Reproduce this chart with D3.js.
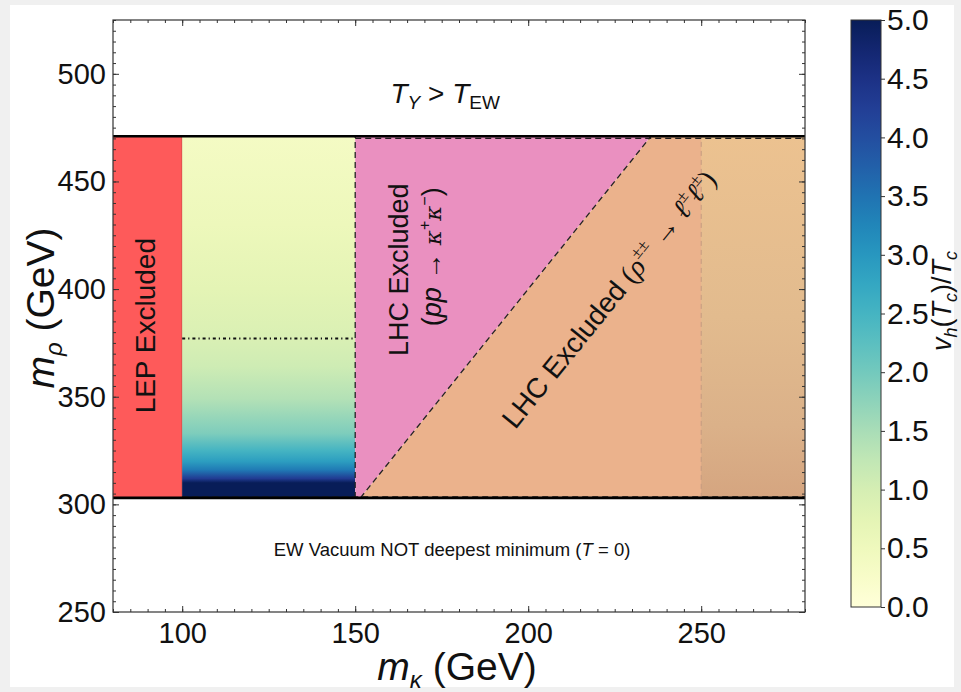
<!DOCTYPE html>
<html><head><meta charset="utf-8">
<script src="https://cdn.jsdelivr.net/npm/d3@7"></script>
<style>
html,body{margin:0;padding:0;background:#f0f0f0;}
svg{display:block;}
text{font-family:"Liberation Sans",Arial,Helvetica,sans-serif;fill:#111;}
</style></head>
<body>
<svg id="chart" width="961" height="692"></svg>
<script>
// ---------------- data ----------------
const xDomain = [80, 280];            // m_kappa (GeV)
const yDomain = [250, 525];           // m_rho (GeV)
const xTicks = [100, 150, 200, 250];
const yTicks = [250, 300, 350, 400, 450, 500];
const cbTicks = [0, 0.5, 1.0, 1.5, 2.0, 2.5, 3.0, 3.5, 4.0, 4.5, 5.0];
const cbDomain = [0, 5];
const rhoLow = 303;                   // EW vacuum NOT deepest minimum below
const rhoHigh = 471;                  // T_Y > T_EW above
const lepLimit = 100;                 // LEP excluded below m_kappa
const pairLimit = 150;                // LHC pp -> kappa+ kappa- excluded
const rhoPerKappa = 2;                // rho -> l l excluded when m_rho < 2 m_kappa
const highKappa = 250;                // right-hand sub-band
const vOverTLine = 377;               // v_h(T_c)/T_c = 1 contour
// v_h(Tc)/Tc profile inside 100<m_kappa<150 as a function of m_rho
const profRho = [303, 310, 312, 316, 320, 325, 333, 349, 364, 378, 400, 430, 471];
const profVT  = [5.0, 5.0, 4.3, 3.4, 2.9, 2.5, 1.9, 1.4, 1.1, 0.92, 0.75, 0.55, 0.35];

// ---------------- layout ----------------
const svg = d3.select("#chart");
const L = 113, R = 805, T = 20, B = 612;
const x = d3.scaleLinear().domain(xDomain).range([L, R]);
const y = d3.scaleLinear().domain(yDomain).range([B, T]);
const cbX = 851, cbW = 30;
const cy = d3.scaleLinear().domain(cbDomain).range([607, 20]);
const cmap = d3.interpolateYlGnBu;
const sans = '"Liberation Sans",Arial,sans-serif';

svg.append("rect").attr("x", 10).attr("y", 5).attr("width", 944).attr("height", 682).attr("fill", "#fff");

const defs = svg.append("defs");
defs.append("clipPath").attr("id", "clip").append("rect")
  .attr("x", L).attr("y", T).attr("width", R - L).attr("height", B - T);

const g1 = defs.append("linearGradient").attr("id", "profGrad")
  .attr("gradientUnits", "userSpaceOnUse")
  .attr("x1", 0).attr("x2", 0).attr("y1", y(rhoLow)).attr("y2", y(rhoHigh));
profRho.forEach((r, i) => {
  g1.append("stop").attr("offset", (r - rhoLow) / (rhoHigh - rhoLow))
    .attr("stop-color", cmap(profVT[i] / cbDomain[1]));
});
const g2 = defs.append("linearGradient").attr("id", "tanGrad")
  .attr("x1", 0).attr("x2", 0).attr("y1", 1).attr("y2", 0);
[[0, "#d5a580"], [0.2, "#dbb189"], [0.5, "#e2bb8e"], [1, "#ecc290"]].forEach(s =>
  g2.append("stop").attr("offset", s[0]).attr("stop-color", s[1]));
const g3 = defs.append("linearGradient").attr("id", "cbGrad")
  .attr("x1", 0).attr("x2", 0).attr("y1", 1).attr("y2", 0);
d3.range(0, 1.0001, 0.05).forEach(t =>
  g3.append("stop").attr("offset", t).attr("stop-color", cmap(t)));

const plot = svg.append("g").attr("clip-path", "url(#clip)");
const line = d3.line().x(d => x(d[0])).y(d => y(d[1]));

plot.append("rect").attr("x", x(xDomain[0])).attr("y", y(rhoHigh))
  .attr("width", x(lepLimit) - x(xDomain[0])).attr("height", y(rhoLow) - y(rhoHigh))
  .attr("fill", "#fe5a5a");
plot.append("path").attr("d", line([[lepLimit, rhoLow], [lepLimit, rhoHigh]]))
  .attr("stroke", "#b0453c").attr("stroke-width", 1);
plot.append("rect").attr("x", x(lepLimit)).attr("y", y(rhoHigh))
  .attr("width", x(pairLimit) - x(lepLimit)).attr("height", y(rhoLow) - y(rhoHigh))
  .attr("fill", "url(#profGrad)");
const kLow = rhoLow / rhoPerKappa, kHigh = rhoHigh / rhoPerKappa;
plot.append("path").attr("d", line([[pairLimit, rhoLow], [kLow, rhoLow], [kHigh, rhoHigh], [pairLimit, rhoHigh]]) + "Z")
  .attr("fill", "#ea90c0");
plot.append("path").attr("d", line([[kLow, rhoLow], [xDomain[1], rhoLow], [xDomain[1], rhoHigh], [kHigh, rhoHigh]]) + "Z")
  .attr("fill", "#ebb28c");
plot.append("rect").attr("x", x(highKappa)).attr("y", y(rhoHigh))
  .attr("width", x(xDomain[1]) - x(highKappa)).attr("height", y(rhoLow) - y(rhoHigh))
  .attr("fill", "url(#tanGrad)");
plot.append("path").attr("d", line([[highKappa, rhoLow], [highKappa, rhoHigh]]))
  .attr("stroke", "#c49a80").attr("stroke-width", 1).attr("stroke-dasharray", "5,4");

const dash = (pts) => plot.append("path").attr("d", line(pts)).attr("fill", "none")
  .attr("stroke", "#222").attr("stroke-width", 1.3).attr("stroke-dasharray", "6,4");
dash([[pairLimit, rhoLow], [pairLimit, rhoHigh]]);
dash([[kLow, rhoLow], [kHigh, rhoHigh]]);
dash([[pairLimit, rhoHigh - 1], [xDomain[1], rhoHigh - 1]]);
dash([[lepLimit, rhoLow + 0.5], [xDomain[1], rhoLow + 0.5]]);
plot.append("path").attr("d", line([[lepLimit, vOverTLine], [pairLimit, vOverTLine]]))
  .attr("stroke", "#111").attr("stroke-width", 2).attr("stroke-dasharray", "3,3,1.2,3").attr("fill", "none");
[rhoLow, rhoHigh].forEach(r =>
  plot.append("path").attr("d", line([[xDomain[0], r], [xDomain[1], r]]))
    .attr("stroke", "#000").attr("stroke-width", 2.6));

// ---------------- axes ----------------
const minorX = d3.range(xDomain[0], xDomain[1] + 0.1, 5);
const minorY = d3.range(yDomain[0], yDomain[1] + 0.1, 5);
const ax = svg.append("g");
const tickStyle = s => s.attr("stroke", "#333").attr("stroke-width", 1);
ax.append("g").attr("transform", `translate(0,${B})`)
  .call(d3.axisBottom(x).tickValues(minorX).tickSize(-3).tickFormat(""))
  .call(g => g.select(".domain").remove()).selectAll("line").call(tickStyle);
ax.append("g").attr("transform", `translate(0,${T})`)
  .call(d3.axisTop(x).tickValues(minorX).tickSize(-3).tickFormat(""))
  .call(g => g.select(".domain").remove()).selectAll("line").call(tickStyle);
ax.append("g").attr("transform", `translate(0,${B})`)
  .call(d3.axisBottom(x).tickValues(xTicks).tickSize(-6).tickPadding(10).tickFormat(d3.format("d")))
  .call(g => g.select(".domain").remove())
  .call(g => g.selectAll("line").call(tickStyle))
  .call(g => g.selectAll("text").attr("font-size", 29).attr("fill", "#111").attr("font-family", sans));
ax.append("g").attr("transform", `translate(0,${T})`)
  .call(d3.axisTop(x).tickValues(xTicks).tickSize(-6).tickFormat(""))
  .call(g => g.select(".domain").remove()).selectAll("line").call(tickStyle);
ax.append("g").attr("transform", `translate(${L},0)`)
  .call(d3.axisLeft(y).tickValues(minorY).tickSize(-3).tickFormat(""))
  .call(g => g.select(".domain").remove()).selectAll("line").call(tickStyle);
ax.append("g").attr("transform", `translate(${R},0)`)
  .call(d3.axisRight(y).tickValues(minorY).tickSize(-3).tickFormat(""))
  .call(g => g.select(".domain").remove()).selectAll("line").call(tickStyle);
ax.append("g").attr("transform", `translate(${L},0)`)
  .call(d3.axisLeft(y).tickValues(yTicks).tickSize(-6).tickPadding(7).tickFormat(d3.format("d")))
  .call(g => g.select(".domain").remove())
  .call(g => g.selectAll("line").call(tickStyle))
  .call(g => g.selectAll("text").attr("font-size", 29).attr("fill", "#111").attr("font-family", sans));
ax.append("g").attr("transform", `translate(${R},0)`)
  .call(d3.axisRight(y).tickValues(yTicks).tickSize(-6).tickFormat(""))
  .call(g => g.select(".domain").remove()).selectAll("line").call(tickStyle);
svg.append("rect").attr("x", L).attr("y", T).attr("width", R - L).attr("height", B - T)
  .attr("fill", "none").attr("stroke", "#333").attr("stroke-width", 1.2);

// axis titles
const xt = svg.append("text").attr("x", 457).attr("y", 680).attr("text-anchor", "middle").attr("font-size", 39);
xt.append("tspan").attr("font-style", "italic").text("m");
xt.append("tspan").attr("font-style", "italic").attr("font-size", 24).attr("dy", 8).text("κ");
xt.append("tspan").attr("dy", -8).text(" (GeV)");
const yt = svg.append("text").attr("transform", "translate(54,308) rotate(-90)").attr("text-anchor", "middle").attr("font-size", 39);
yt.append("tspan").attr("font-style", "italic").text("m");
yt.append("tspan").attr("font-style", "italic").attr("font-size", 24).attr("dy", 8).text("ρ");
yt.append("tspan").attr("dy", -8).text(" (GeV)");

// ---------------- annotations ----------------
const t1 = svg.append("text").attr("x", x(176)).attr("y", y(486.5)).attr("text-anchor", "middle").attr("font-size", 28);
t1.append("tspan").attr("font-style", "italic").text("T");
t1.append("tspan").attr("font-style", "italic").attr("font-size", 19).attr("dy", 6).text("Y");
t1.append("tspan").attr("dy", -6).text(" > ");
t1.append("tspan").attr("font-style", "italic").text("T");
t1.append("tspan").attr("font-size", 19).attr("dy", 6).text("EW");

const t2 = svg.append("text").attr("x", x(178)).attr("y", y(275.8)).attr("text-anchor", "middle").attr("font-size", 18.5);
t2.append("tspan").text("EW Vacuum NOT deepest minimum (");
t2.append("tspan").attr("font-style", "italic").text("T");
t2.append("tspan").text(" = 0)");

svg.append("text").attr("transform", `translate(${x(92)},${y(383)}) rotate(-90)`)
  .attr("text-anchor", "middle").attr("font-size", 28).text("LEP Excluded");

svg.append("text").attr("transform", `translate(${x(165.3)},${y(409)}) rotate(-90)`)
  .attr("text-anchor", "middle").attr("font-size", 27).text("LHC Excluded");
const t3 = svg.append("text").attr("transform", `translate(${x(174.7)},${y(415)}) rotate(-90)`)
  .attr("text-anchor", "middle").attr("font-size", 27);
t3.append("tspan").text("(");
t3.append("tspan").attr("font-style", "italic").text("pp");
t3.append("tspan").text(" → ");
t3.append("tspan").attr("font-style", "italic").attr("font-family", '"DejaVu Serif",serif').attr("font-size", 23).text("κ");
t3.append("tspan").attr("font-size", 16).attr("dy", -11).text("+");
t3.append("tspan").attr("dy", 11).attr("font-style", "italic").attr("font-family", '"DejaVu Serif",serif').attr("font-size", 23).text("κ");
t3.append("tspan").attr("font-size", 16).attr("dy", -11).text("−");
t3.append("tspan").attr("dy", 11).text(")");

const t4 = svg.append("text").attr("transform", `translate(${x(225.5)},${y(392.5)}) rotate(-51)`)
  .attr("text-anchor", "middle").attr("font-size", 28);
t4.append("tspan").text("LHC Excluded ");
const mathF = '"Liberation Serif","DejaVu Serif",serif';
t4.append("tspan").attr("font-family", mathF).text("(");
t4.append("tspan").attr("font-family", mathF).attr("font-style", "italic").text("ρ");
t4.append("tspan").attr("font-family", mathF).attr("font-size", 17).attr("dy", -12).text("±±");
t4.append("tspan").attr("font-family", mathF).attr("dy", 12).text(" → ");
t4.append("tspan").attr("font-family", mathF).attr("font-style", "italic").text("ℓ");
t4.append("tspan").attr("font-family", mathF).attr("font-size", 17).attr("dy", -12).text("±");
t4.append("tspan").attr("font-family", mathF).attr("font-style", "italic").attr("dy", 12).text("ℓ");
t4.append("tspan").attr("font-family", mathF).attr("font-size", 17).attr("dy", -12).text("±");
t4.append("tspan").attr("font-family", mathF).attr("dy", 12).text(")");

// ---------------- colorbar ----------------
svg.append("rect").attr("x", cbX).attr("y", cy(cbDomain[1])).attr("width", cbW)
  .attr("height", cy(cbDomain[0]) - cy(cbDomain[1])).attr("fill", "url(#cbGrad)")
  .attr("stroke", "#333").attr("stroke-width", 1);
svg.append("g").attr("transform", `translate(${cbX + cbW},0)`)
  .call(d3.axisRight(cy).tickValues(cbTicks).tickSize(4).tickPadding(2).tickFormat(d3.format(".1f")))
  .call(g => g.select(".domain").remove())
  .call(g => g.selectAll("line").call(tickStyle))
  .call(g => g.selectAll("text").attr("font-size", 30).attr("fill", "#111").attr("font-family", sans));
const cbt = svg.append("text").attr("transform", "translate(951,301) rotate(-90)").attr("text-anchor", "middle").attr("font-size", 27);
cbt.append("tspan").attr("font-style", "italic").text("v");
cbt.append("tspan").attr("font-style", "italic").attr("font-size", 18).attr("dy", 6).text("h");
cbt.append("tspan").attr("dy", -6).text("(");
cbt.append("tspan").attr("font-style", "italic").text("T");
cbt.append("tspan").attr("font-style", "italic").attr("font-size", 18).attr("dy", 6).text("c");
cbt.append("tspan").attr("dy", -6).text(")/");
cbt.append("tspan").attr("font-style", "italic").text("T");
cbt.append("tspan").attr("font-style", "italic").attr("font-size", 18).attr("dy", 6).text("c");
</script>
</body></html>
